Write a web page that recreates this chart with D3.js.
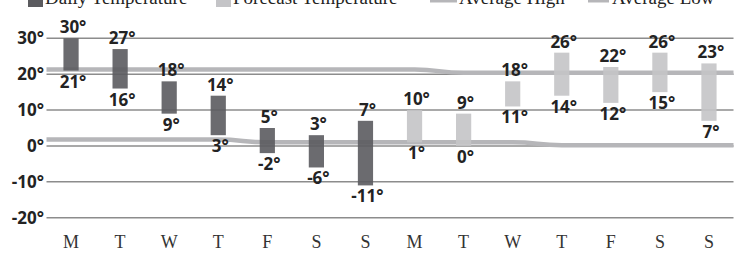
<!DOCTYPE html>
<html>
<head>
<meta charset="utf-8">
<script src="https://cdn.jsdelivr.net/npm/d3@7"></script>
<style>
  body { margin: 0; background: #fff; }
  svg { display: block; }
</style>
</head>
<body>
<div id="chart"></div>
<script>
// data
const days = ['M', 'T', 'W', 'T', 'F', 'S', 'S', 'M', 'T', 'W', 'T', 'F', 'S', 'S'];
const highs = [30, 27, 18, 14, 5, 3, 7, 10, 9, 18, 26, 22, 26, 23];
const lows = [21, 16, 9, 3, -2, -6, -11, 1, 0, 11, 14, 12, 15, 7];
const isForecast = [0, 0, 0, 0, 0, 0, 0, 1, 1, 1, 1, 1, 1, 1];
const avgHigh = [21.3, 21.3, 21.3, 21.3, 21.3, 21.3, 21.3, 21.3, 20.4, 20.4, 20.4, 20.4, 20.4, 20.4];
const avgLow = [1.8, 1.8, 1.8, 1.8, 1.0, 1.0, 1.0, 1.0, 1.0, 1.0, 0.2, 0.2, 0.2, 0.2];
const yTicks = [-20, -10, 0, 10, 20, 30];
const legendLabels = ['Daily Temperature', 'Forecast Temperature', 'Average High', 'Average Low'];

const W = 742, H = 253;
const darkCol = '#5b5b5f';
const lightCol = '#c4c4c7';
const avgCol = '#b6b6b9';
const gridCol = '#8c8c8c';
const textCol = '#232323';

const svg = d3.select('#chart').append('svg')
  .attr('width', W)
  .attr('height', H);

const idx = d3.range(days.length);

const x = d3.scaleBand()
  .domain(idx)
  .range([46.5, 733.5])
  .paddingInner(0.69)
  .paddingOuter(0.345);

const y = d3.scaleLinear()
  .domain([-20, 30])
  .range([217.7, 38.3]);

const cx = i => x(i) + x.bandwidth() / 2;

// gridlines
svg.append('g')
  .selectAll('line')
  .data(yTicks)
  .join('line')
  .attr('x1', x.range()[0])
  .attr('x2', x.range()[1])
  .attr('y1', d => y(d))
  .attr('y2', d => y(d))
  .attr('stroke', gridCol)
  .attr('stroke-width', 1.4);

// y labels
svg.append('g')
  .selectAll('text')
  .data(yTicks)
  .join('text')
  .attr('x', 44)
  .attr('y', d => y(d) + 6)
  .attr('text-anchor', 'end')
  .attr('font-family', 'Open Sans, sans-serif')
  .attr('font-weight', 700)
  .attr('font-size', 17)
  .attr('fill', textCol)
  .text(d => d + '°');

// average lines, stretched out to the ends of the grid
const avgPath = vals => {
  const pts = [[x.range()[0], vals[0]]]
    .concat(vals.map((v, i) => [cx(i), v]))
    .concat([[x.range()[1], vals[vals.length - 1]]]);
  return d3.line()
    .x(d => d[0])
    .y(d => y(d[1]))
    .curve(d3.curveBumpX)(pts);
};

[avgHigh, avgLow].forEach(vals => {
  svg.append('path')
    .attr('d', avgPath(vals))
    .attr('fill', 'none')
    .attr('stroke', avgCol)
    .attr('stroke-width', 4.5);
});

// bars
svg.append('g')
  .selectAll('rect')
  .data(idx)
  .join('rect')
  .attr('x', i => x(i))
  .attr('width', x.bandwidth())
  .attr('y', i => y(highs[i]))
  .attr('height', i => y(lows[i]) - y(highs[i]))
  .attr('fill', i => isForecast[i] ? lightCol : darkCol)
  .attr('opacity', 0.9);

// value labels
const lab = svg.append('g')
  .attr('font-family', 'Open Sans, sans-serif')
  .attr('font-weight', 700)
  .attr('font-size', 17)
  .attr('fill', textCol)
  .attr('text-anchor', 'middle');

lab.selectAll('.hi')
  .data(idx)
  .join('text')
  .attr('class', 'hi')
  .attr('x', i => cx(i) + 2)
  .attr('y', i => y(highs[i]) - 5)
  .text(i => highs[i] + '°');

lab.selectAll('.lo')
  .data(idx)
  .join('text')
  .attr('class', 'lo')
  .attr('x', i => cx(i) + 2)
  .attr('y', i => y(lows[i]) + 17)
  .text(i => lows[i] + '°');

// day labels
svg.append('g')
  .selectAll('text')
  .data(idx)
  .join('text')
  .attr('x', i => cx(i))
  .attr('y', 248)
  .attr('text-anchor', 'middle')
  .attr('font-family', 'Liberation Serif, serif')
  .attr('font-size', 18)
  .attr('fill', '#333')
  .text(i => days[i]);

// legend (cut off at the top edge, as in the original)
const legend = svg.append('g')
  .attr('font-family', 'Liberation Serif, serif')
  .attr('font-size', 19)
  .attr('fill', textCol);

const legX = [28, 216, 430, 588];
const legTextX = [45, 233, 459, 612];

legend.append('rect').attr('x', legX[0]).attr('y', -8).attr('width', 15).attr('height', 15).attr('fill', darkCol);
legend.append('rect').attr('x', legX[1]).attr('y', -8).attr('width', 15).attr('height', 15).attr('fill', lightCol);
legend.append('line').attr('x1', legX[2]).attr('x2', legX[2] + 27).attr('y1', 0.5).attr('y2', 0.5)
  .attr('stroke', avgCol).attr('stroke-width', 4);
legend.append('line').attr('x1', legX[3]).attr('x2', legX[3] + 21).attr('y1', 0.5).attr('y2', 0.5)
  .attr('stroke', avgCol).attr('stroke-width', 4);

legend.selectAll('text')
  .data(legendLabels)
  .join('text')
  .attr('x', (d, i) => legTextX[i])
  .attr('y', 4)
  .text(d => d);
</script>
</body>
</html>
